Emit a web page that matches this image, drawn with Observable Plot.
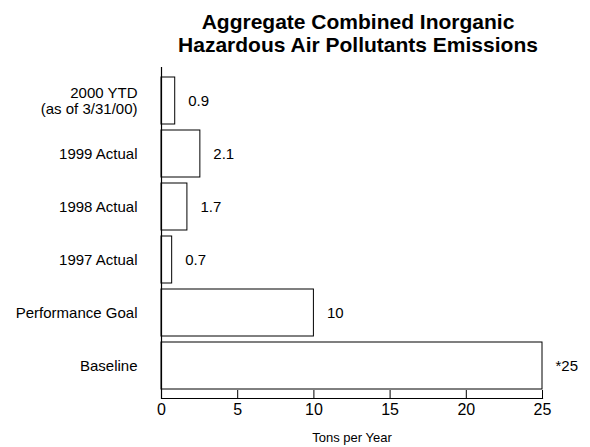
<!DOCTYPE html>
<html>
<head>
<meta charset="utf-8">
<script src="https://cdn.jsdelivr.net/npm/d3@7"></script>
<script src="https://cdn.jsdelivr.net/npm/@observablehq/plot@0.6"></script>
<style>
  html, body { margin: 0; padding: 0; background: #fff; }
  #chart svg { display: block; }
</style>
</head>
<body>
<div id="chart"></div>
<script>
// Data
const categories = [
  "2000 YTD\n(as of 3/31/00)",
  "1999 Actual",
  "1998 Actual",
  "1997 Actual",
  "Performance Goal",
  "Baseline"
];
// bar lengths as drawn (tons per year)
const barValues = [0.9, 2.55, 1.7, 0.7, 10, 25];
// value labels as printed
const valueLabels = ["0.9", "2.1", "1.7", "0.7", "10", "*25"];
const xTicks = [0, 5, 10, 15, 20, 25];
const titleText = "Aggregate Combined Inorganic\nHazardous Air Pollutants Emissions";
const xLabel = "Tons per Year";

const data = categories.map((c, i) => ({category: c, value: barValues[i], label: valueLabels[i]}));

const font = "'Liberation Sans', Arial, Helvetica, sans-serif";

const chart = Plot.plot({
  width: 590,
  height: 447,
  marginLeft: 161,
  marginRight: 48,
  marginTop: 67,
  marginBottom: 49,
  style: {fontFamily: font, background: "#fff", color: "#000"},
  x: {domain: [0, 25], axis: null},
  y: {domain: categories, paddingInner: 0.12, paddingOuter: 0.15, axis: null},
  marks: [
    Plot.barX(data, {x: "value", y: "category", fill: "#fff", stroke: "#000", strokeWidth: 1}),
    Plot.ruleX([0], {stroke: "#000", strokeWidth: 1.2}),
    Plot.frame({anchor: "bottom", stroke: "#000", strokeWidth: 1.2}),
    Plot.axisX({ticks: xTicks, tickSize: -8, tickPadding: 13, fontSize: 16, label: null, tickFormat: d => String(d)}),
    Plot.axisY({tickSize: 0, tickPadding: 24, fontSize: 15, label: null, lineHeight: 1.07}),
    Plot.text(data, {x: "value", y: "category", text: "label", textAnchor: "start", dx: 13, fontSize: 15, fill: "#000"}),
    Plot.text([titleText], {frameAnchor: "top", dy: -34, dx: 6, lineAnchor: "middle", lineHeight: 1.07, fontSize: 21, fontWeight: "bold", fill: "#000"}),
    Plot.text([xLabel], {frameAnchor: "bottom", dy: 39, lineAnchor: "middle", fontSize: 13, fill: "#000"})
  ]
});

document.getElementById("chart").appendChild(chart);
</script>
</body>
</html>
